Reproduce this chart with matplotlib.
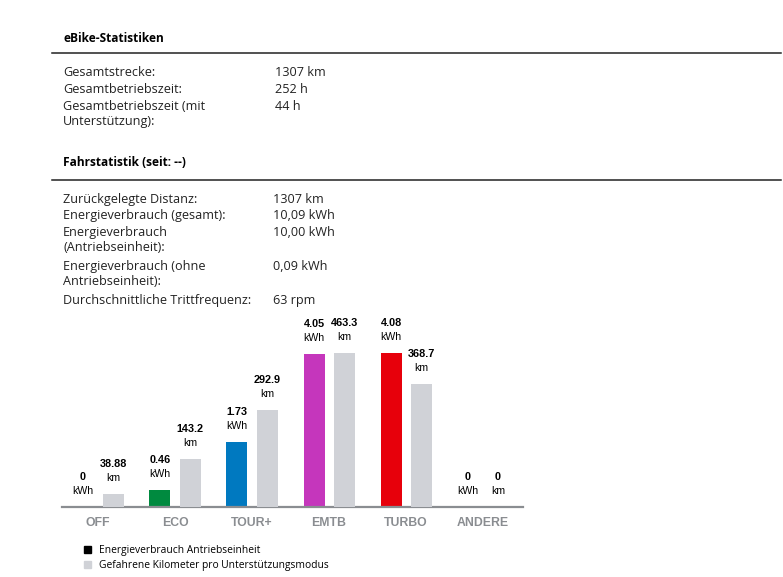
import matplotlib
matplotlib.use("Agg")
import matplotlib.pyplot as plt
from matplotlib.patches import Patch
from matplotlib.lines import Line2D

plt.rcParams['font.family'] = ['Open Sans', 'DejaVu Sans']

# text blocks
sec1_title = "eBike-Statistiken"
sec1_labels = ["Gesamtstrecke:", "Gesamtbetriebszeit:", "Gesamtbetriebszeit (mit\nUnterstützung):"]
sec1_values = ["1307 km", "252 h", "44 h"]

sec2_title = "Fahrstatistik (seit: --)"
sec2_labels = ["Zurückgelegte Distanz:", "Energieverbrauch (gesamt):",
               "Energieverbrauch\n(Antriebseinheit):", "Energieverbrauch (ohne\nAntriebseinheit):",
               "Durchschnittliche Trittfrequenz:"]
sec2_values = ["1307 km", "10,09 kWh", "10,00 kWh", "0,09 kWh", "63 rpm"]

# chart data
modes = ["OFF", "ECO", "TOUR+", "EMTB", "TURBO", "ANDERE"]
kwh = [0, 0.46, 1.73, 4.05, 4.08, 0]
kwh_text = ["0", "0.46", "1.73", "4.05", "4.08", "0"]
km = [38.88, 143.2, 292.9, 463.3, 368.7, 0]
km_text = ["38.88", "143.2", "292.9", "463.3", "368.7", "0"]
mode_colors = ["#008a3f", "#008a3f", "#0079c0", "#c536bc", "#e7000b", "#8a8d91"]
km_color = "#d0d2d7"

W, H = 783, 577
fig = plt.figure(figsize=(W / 100, H / 100), dpi=100)


def fx(px):
    return px / W


def fy(py):
    return 1 - py / H


def section(title, labels, values, y_title, y_line, y0, step, xval):
    fig.text(fx(63), fy(y_title), title, fontsize=8.6, fontweight='bold', va='center', ha='left')
    fig.add_artist(Line2D([fx(52), fx(781)], [fy(y_line), fy(y_line)], color='#222222', lw=1.1))
    y = y0
    for lab, val in zip(labels, values):
        fig.text(fx(63), fy(y), lab, fontsize=9.1, va='top', ha='left', linespacing=1.2, color='#222222')
        fig.text(fx(xval), fy(y), val, fontsize=9.1, va='top', ha='left', color='#222222')
        y += step * (lab.count("\n") + 1)


section(sec1_title, sec1_labels, sec1_values, 38, 53, 66.5, 16.5, 275)
section(sec2_title, sec2_labels, sec2_values, 162, 180, 192.5, 16.9, 273)

# chart axes (pixel layout)
left, right, top, base = 62, 523, 320, 507
ax = fig.add_axes([fx(left), fy(base), fx(right - left), (base - top) / H])
ax2 = ax.twinx()
scale = (base - top) / 154.0
ax.set_ylim(0, max(kwh) * scale)
ax2.set_ylim(0, max(km) * scale)
ax.set_xlim(-0.4675, 5.519)

x = list(range(len(modes)))
w = 0.2727
off = 0.195
xa = [i - off for i in x]
xb = [i + off for i in x]
ax.bar(xa, kwh, width=w, color=mode_colors)
ax2.bar(xb, km, width=w, color=km_color)

for xi, v, t in zip(xa, kwh, kwh_text):
    ax.annotate(t, (xi, v), xytext=(0, 30), textcoords='offset pixels', ha='center', va='center',
                fontsize=7.8, fontweight='bold', family='Liberation Sans')
    ax.annotate("kWh", (xi, v), xytext=(0, 16), textcoords='offset pixels', ha='center', va='center',
                fontsize=7.6, family='Liberation Sans')
for xi, v, t in zip(xb, km, km_text):
    ax2.annotate(t, (xi, v), xytext=(0, 30), textcoords='offset pixels', ha='center', va='center',
                 fontsize=7.8, fontweight='bold', family='Liberation Sans')
    ax2.annotate("km", (xi, v), xytext=(0, 16), textcoords='offset pixels', ha='center', va='center',
                 fontsize=7.6, family='Liberation Sans')

for a in (ax, ax2):
    for s in a.spines.values():
        s.set_visible(False)
    a.set_yticks([])
ax.spines['bottom'].set_visible(True)
ax.spines['bottom'].set_color('#8a8d91')
ax.spines['bottom'].set_linewidth(1.6)
ax.set_xticks(x)
ax.set_xticklabels(modes, fontsize=8.8, fontweight='bold', color='#8a8d91', family='Liberation Sans')
ax.tick_params(axis='x', length=0, pad=7)
ax.patch.set_alpha(0)

handles = [Patch(color='#000000'), Patch(color=km_color)]
fig.legend(handles, ["Energieverbrauch Antriebseinheit", "Gefahrene Kilometer pro Unterstützungsmodus"],
           loc='upper left', bbox_to_anchor=(fx(77), fy(538)), frameon=False, fontsize=7.4,
           handlelength=0.7, handleheight=0.7, handletextpad=0.75, labelspacing=0.35, borderpad=0.2)

fig.savefig("out.png", dpi=100)
